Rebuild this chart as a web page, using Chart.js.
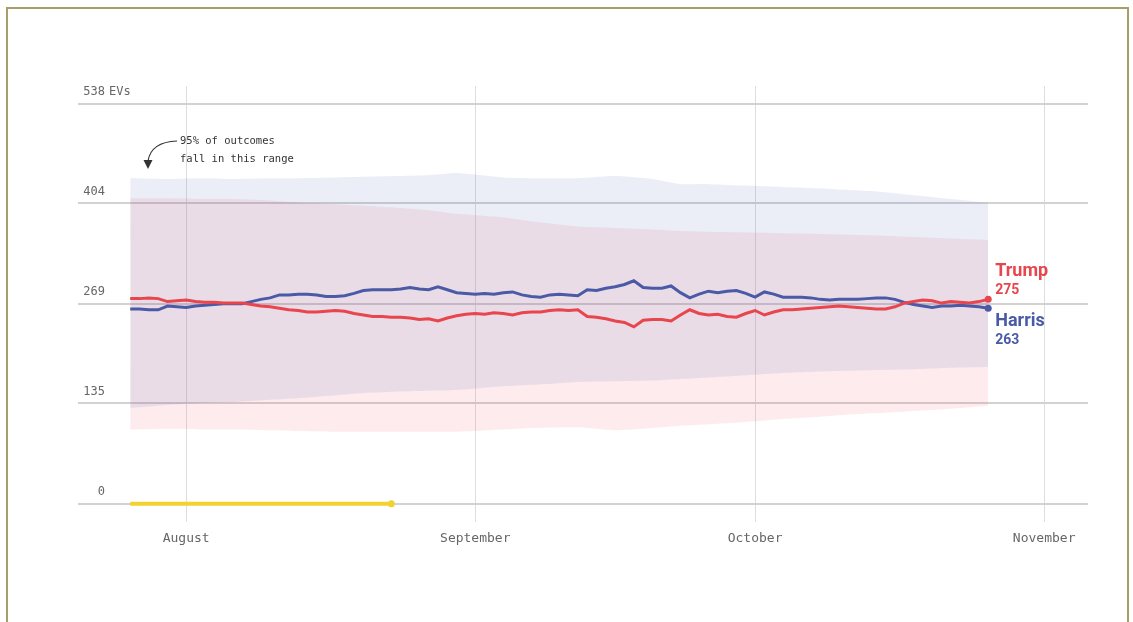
<!DOCTYPE html>
<html>
<head>
<meta charset="utf-8">
<script src="https://cdn.jsdelivr.net/npm/chart.js@4.4.1/dist/chart.umd.min.js"></script>
<style>
  html, body { margin: 0; padding: 0; background: #fff; }
  #wrap { position: relative; width: 1133px; height: 622px; overflow: hidden; }
  #frame { position: absolute; left: 6px; top: 7px; width: 1119px; height: 700px; border: 2px solid #a59f6a; }
  #box { position: absolute; left: 0; top: 0; width: 1133px; height: 622px; }
</style>
</head>
<body>
<div id="wrap">
  <div id="frame"></div>
  <div id="box"><canvas id="chart"></canvas></div>
</div>
<script>
// days counted from Aug 1 (0 = Aug 1)
const firstDay = -6;
const monthTicks = [0, 31, 61, 92];
const monthLabels = ['August', 'September', 'October', 'November'];
const evTicks = [0, 135, 269, 404, 538];

const trump = [
  276, 276, 277, 276, 272, 273, 274, 272, 271, 271,
  270, 270, 270, 268, 266, 265, 263, 261, 260, 258,
  258, 259, 260, 259, 256, 254, 252, 252, 251, 251,
  250, 248, 249, 246, 250, 253, 255, 256, 255, 257,
  256, 254, 257, 258, 258, 260, 261, 260, 261, 252,
  251, 249, 246, 244, 238, 247, 248, 248, 246, 254,
  261, 256, 254, 255, 252, 251, 256, 260, 254, 258,
  261, 261, 262, 263, 264, 265, 266, 265, 264, 263,
  262, 262, 265, 270, 272, 274, 273, 270, 272, 271,
  270, 272, 275
];
const harris = [
  262, 262, 261, 261, 266, 265, 264, 266, 267, 268,
  269, 269, 269, 272, 275, 277, 281, 281, 282, 282,
  281, 279, 279, 280, 283, 287, 288, 288, 288, 289,
  291, 289, 288, 292, 288, 284, 283, 282, 283, 282,
  284, 285, 281, 279, 278, 281, 282, 281, 280, 288,
  287, 290, 292, 295, 300, 291, 290, 290, 293, 284,
  277, 282, 286, 284, 286, 287, 283, 278, 285, 282,
  278, 278, 278, 277, 275, 274, 275, 275, 275, 276,
  277, 277, 275, 271, 268, 266, 264, 266, 266, 267,
  266, 265, 263
];
const days = trump.map((_, i) => firstDay + i);

// 95% ranges
const bandDays   = [-6, -2, 2, 5, 9, 12, 16, 19, 23, 26, 29, 34, 37, 42, 46, 50, 53, 56, 60, 64, 68, 71, 74, 78, 82, 86];
const harrisHigh = [438, 437, 438, 437, 438, 438, 439, 440, 441, 442, 445, 439, 438, 438, 441, 437, 430, 430, 428, 426, 424, 422, 420, 415, 410, 405];
const harrisLow  = [129, 133, 136, 137, 140, 142, 146, 149, 151, 152, 153, 158, 160, 164, 165, 166, 168, 170, 173, 176, 178, 179, 180, 181, 183, 184];
const trumpHigh  = [411, 411, 410, 410, 408, 405, 403, 401, 398, 395, 390, 385, 380, 373, 371, 369, 367, 366, 365, 364, 363, 362, 361, 359, 357, 355];
const trumpLow   = [100, 101, 100, 100,  99,  98,  97,  97,  97,  97,  97, 100, 102, 103,  99, 102, 105, 107, 110, 114, 117, 120, 122, 125, 128, 132];

const markerDays = [-6, 22];
const markerVals = [0, 0];

const RED = '#e8454d';
const BLUE = '#4a5aa6';
const MONO = '"DejaVu Sans Mono", "Liberation Mono", monospace';

const pts = (xs, ys) => xs.map((x, i) => ({ x, y: ys[i] }));
const endDot = n => c => c.dataIndex === n - 1 ? 3.5 : 0;

const extras = {
  id: 'extras',
  afterDatasetsDraw(chart) {
    const { ctx, scales: { x, y } } = chart;
    ctx.save();
    // y tick labels above the grid lines
    ctx.font = '12px ' + MONO;
    ctx.fillStyle = '#666';
    ctx.textBaseline = 'middle';
    y.ticks.forEach(t => {
      const py = y.getPixelForValue(t.value) - 12;
      ctx.textAlign = 'right';
      ctx.fillText(String(t.value), 105, py);
      if (t.value === 538) {
        ctx.textAlign = 'left';
        ctx.fillText('EVs', 109, py);
      }
    });

    // note
    ctx.font = '10.5px ' + MONO;
    ctx.fillStyle = '#333';
    ctx.textAlign = 'left';
    ctx.fillText('95% of outcomes', 180, 141);
    ctx.fillText('fall in this range', 180, 159);
    ctx.strokeStyle = '#333';
    ctx.lineWidth = 1.2;
    ctx.beginPath();
    ctx.moveTo(177, 141);
    ctx.quadraticCurveTo(151, 142, 148, 161);
    ctx.stroke();
    ctx.beginPath();
    ctx.moveTo(143.5, 160);
    ctx.lineTo(152.5, 160);
    ctx.lineTo(148, 169);
    ctx.closePath();
    ctx.fillStyle = '#333';
    ctx.fill();

    // end labels
    const n = trump.length - 1;
    const lx = x.getPixelForValue(days[n]) + 7;
    const ty = y.getPixelForValue(trump[n]);
    const hy = y.getPixelForValue(harris[n]);
    ctx.textAlign = 'left';
    ctx.fillStyle = RED;
    ctx.font = 'bold 18px Roboto, "Liberation Sans", sans-serif';
    ctx.fillText('Trump', lx, ty - 28);
    ctx.font = 'bold 14px Roboto, "Liberation Sans", sans-serif';
    ctx.fillText(String(trump[n]), lx, ty - 9);
    ctx.fillStyle = BLUE;
    ctx.font = 'bold 18px Roboto, "Liberation Sans", sans-serif';
    ctx.fillText('Harris', lx, hy + 13);
    ctx.font = 'bold 14px Roboto, "Liberation Sans", sans-serif';
    ctx.fillText(String(harris[n]), lx, hy + 32);
    ctx.restore();
  }
};

new Chart(document.getElementById('chart'), {
  type: 'line',
  data: {
    datasets: [
      { data: pts(days, trump), borderColor: RED, backgroundColor: RED, borderWidth: 3,
        pointRadius: endDot(trump.length), pointBorderWidth: 0, tension: 0, fill: false, order: 1 },
      { data: pts(days, harris), borderColor: BLUE, backgroundColor: BLUE, borderWidth: 3,
        pointRadius: endDot(harris.length), pointBorderWidth: 0, tension: 0, fill: false, order: 2 },
      { data: pts(markerDays, markerVals), borderColor: '#f3d230', backgroundColor: '#f3d230', borderWidth: 4,
        pointRadius: endDot(markerDays.length), pointBorderWidth: 0, fill: false, order: 3 },
      { data: pts(bandDays, harrisHigh), borderWidth: 0, pointRadius: 0, tension: 0.2,
        fill: '+1', backgroundColor: 'rgba(75,95,180,0.11)', order: 5 },
      { data: pts(bandDays, harrisLow), borderWidth: 0, pointRadius: 0, tension: 0.2, fill: false, order: 6 },
      { data: pts(bandDays, trumpHigh), borderWidth: 0, pointRadius: 0, tension: 0.2,
        fill: '+1', backgroundColor: 'rgba(236,75,90,0.11)', order: 7 },
      { data: pts(bandDays, trumpLow), borderWidth: 0, pointRadius: 0, tension: 0.2, fill: false, order: 8 }
    ]
  },
  options: {
    responsive: true,
    maintainAspectRatio: false,
    animation: false,
    layout: { padding: { left: 78, right: 45, top: 86, bottom: 68 } },
    scales: {
      x: {
        type: 'linear',
        min: -11.6,
        max: 96.7,
        afterBuildTicks: a => { a.ticks = monthTicks.map(v => ({ value: v })); },
        ticks: {
          autoSkip: false,
          maxRotation: 0,
          padding: 8,
          color: '#666',
          font: { family: MONO, size: 13 },
          callback: v => monthLabels[monthTicks.indexOf(v)]
        },
        grid: { color: '#dedede', lineWidth: 1, drawTicks: false },
        border: { display: false }
      },
      y: {
        min: -25,
        max: 562,
        afterBuildTicks: a => { a.ticks = evTicks.map(v => ({ value: v })); },
        ticks: { display: false },
        grid: { color: '#d2d2d2', lineWidth: 2, drawTicks: false },
        border: { display: false }
      }
    },
    plugins: {
      legend: { display: false },
      tooltip: { enabled: false }
    }
  },
  plugins: [extras]
});
</script>
</body>
</html>
